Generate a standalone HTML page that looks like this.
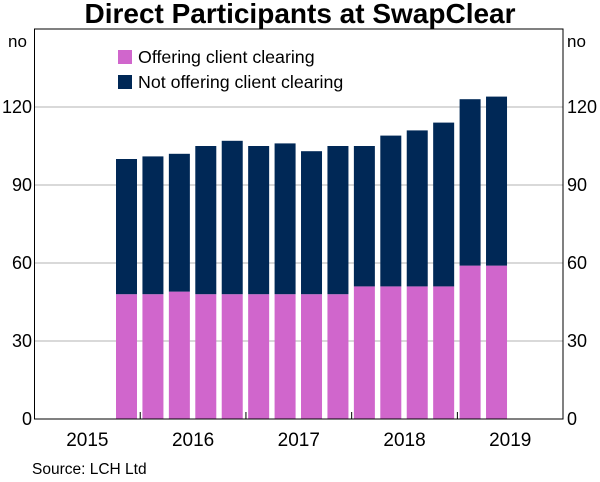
<!DOCTYPE html>
<html><head><meta charset="utf-8"><style>
body{margin:0;background:#fff;font-family:"Liberation Sans",Arial,sans-serif;}
svg text{font-family:"Liberation Sans",Arial,sans-serif;fill:#000;}
</style></head><body>
<svg id="chart" width="600" height="477">
<text x="300" y="23" font-size="28" font-weight="bold" text-anchor="middle">Direct Participants at SwapClear</text>
<g id="grid"></g>
<g id="bars"></g>
<rect x="34.5" y="29" width="528.5" height="390" fill="none" stroke="#000" stroke-width="1"/>
<g id="axes"></g>
<text x="8" y="47" font-size="17">no</text>
<text x="567" y="47" font-size="17">no</text>
<g>
<rect x="118" y="50" width="14" height="14" fill="#d066cc"/>
<text x="138" y="63" font-size="17.8">Offering client clearing</text>
<rect x="118" y="75" width="14" height="14" fill="#002856"/>
<text x="138" y="88" font-size="17.8">Not offering client clearing</text>
</g>
<text x="32" y="474" font-size="15.5">Source:   LCH Ltd</text>
</svg>
<script>
const quarters=[3,4,5,6,7,8,9,10,11,12,13,14,15,16,17];
const offering=[48,48,49,48,48,48,48,48,48,51,51,51,51,59,59];
const totals=[100,101,102,105,107,105,106,103,105,105,109,111,114,123,124];
const yTicks=[0,30,60,90,120];
const years=["2015","2016","2017","2018","2019"];
const NS="http://www.w3.org/2000/svg";
const X0=34.5,QW=26.43,Y0=419,PPU=2.6;
const xq=q=>X0+q*QW;
const y=v=>Y0-v*PPU;
function mk(tag,attrs,parent){const e=document.createElementNS(NS,tag);for(const k in attrs)e.setAttribute(k,attrs[k]);parent.appendChild(e);return e;}
const grid=document.getElementById('grid'),bars=document.getElementById('bars'),axes=document.getElementById('axes');
yTicks.forEach(v=>{
 if(v>0){const l=mk('line',{x1:X0,x2:563,y1:y(v),y2:y(v),stroke:'#b3b3b3','stroke-width':1},grid);
 
 }
 const t1=mk('text',{x:32,y:y(v)+6,'font-size':18,'text-anchor':'end'},axes);t1.textContent=v;
 
 
 const t2=mk('text',{x:567,y:y(v)+6,'font-size':18},axes);t2.textContent=v;
 
 
});
years.forEach((yr,i)=>{
 const t=mk('text',{x:xq(i*4+2),y:446,'font-size':19,'text-anchor':'middle'},axes);t.textContent=yr;
 
 
 if(i>0){const tk=mk('line',{x1:xq(i*4),x2:xq(i*4),y1:Y0,y2:Y0-7,stroke:'#000'},axes);
 
 }
});
quarters.forEach((q,i)=>{
 const cx=xq(q+0.5)-0.5,w=21;
 const p=mk('rect',{x:cx-w/2,y:y(offering[i]),width:w,height:offering[i]*PPU,fill:'#d066cc'},bars);
 
 
 const n=mk('rect',{x:cx-w/2,y:y(totals[i]),width:w,height:(totals[i]-offering[i])*PPU,fill:'#002856'},bars);
 
 
});
</script>
</body></html>
